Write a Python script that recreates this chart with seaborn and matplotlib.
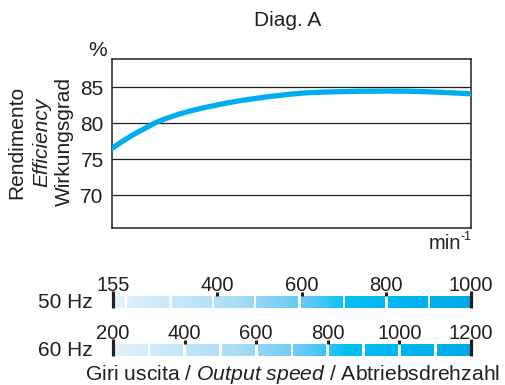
import matplotlib
matplotlib.use("Agg")
import matplotlib.pyplot as plt
import matplotlib.transforms as mtransforms
from matplotlib.colors import LinearSegmentedColormap
import numpy as np
import pandas as pd
import seaborn as sns

# efficiency curve, x in output speed at 50 Hz
speed = [155, 180, 205, 230, 255, 280, 310, 340, 372, 400, 430, 460, 490, 520, 550,
         580, 610, 650, 700, 750, 800, 850, 900, 950, 1000]
efficiency = [76.5, 77.5, 78.4, 79.2, 80.0, 80.6, 81.2, 81.7, 82.15, 82.5, 82.85, 83.15, 83.4,
              83.65, 83.85, 84.05, 84.2, 84.3, 84.38, 84.43, 84.45, 84.43, 84.35, 84.22, 84.07]
y_ticks = [70, 75, 80, 85]

# speed scales
ticks_50 = [400, 600, 800]
labels_50 = [155, 400, 600, 800, 1000]
blocks_50 = [155, 185, 290, 390, 490, 595, 700, 800, 900, 1000]
ticks_60 = [400, 600, 800, 1000]
labels_60 = [200, 400, 600, 800, 1000, 1200]
blocks_60 = [200, 300, 400, 500, 600, 700, 800, 900, 1000, 1100, 1200]

W, H = 506, 385
FONT = "Liberation Sans"

sns.set_style("white")
plt.rcParams["font.family"] = [FONT, "DejaVu Sans"]
plt.rcParams["mathtext.fontset"] = "custom"
plt.rcParams["mathtext.rm"] = FONT
plt.rcParams["mathtext.it"] = FONT + ":italic"

fig = plt.figure(figsize=(W / 100, H / 100), dpi=100)


def box(x0, y0, x1, y1):
    return [x0 / W, 1 - y1 / H, (x1 - x0) / W, (y1 - y0) / H]


# main chart
ax = fig.add_axes(box(112, 59, 471, 228))
df = pd.DataFrame({"speed": speed, "eff": efficiency})
sns.lineplot(data=df, x="speed", y="eff", ax=ax, color="#00aeef", lw=3.8, zorder=3)
ax.set_xlim(155, 1000)
ax.set_ylim(65.45, 88.9)
ax.set_yticks(y_ticks)
ax.set_xticks([])
ax.set_xlabel("")
ax.set_ylabel("")
for v in y_ticks:
    ax.axhline(v, color="#231f20", lw=0.9, zorder=1)
for s in ax.spines.values():
    s.set_color("#231f20")
    s.set_linewidth(1.1)
ax.tick_params(axis="y", length=0, pad=6, labelsize=15, colors="#231f20")

fig.text(288 / W, 1 - 20 / H, "Diag. A", fontsize=15, ha="center", va="center", color="#231f20")
fig.text(98 / W, 1 - 50 / H, "%", fontsize=15, ha="center", va="center", color="#231f20")
fig.text(429 / W, 1 - 249 / H, "min", fontsize=14.5, ha="left", va="baseline", color="#231f20")
fig.text(461 / W, 1 - 240 / H, "-1", fontsize=9, ha="left", va="baseline", color="#231f20")
for x, txt, style in [(17, "Rendimento", "normal"), (42, "Efficiency", "italic"), (64, "Wirkungsgrad", "normal")]:
    fig.text(x / W, 1 - 142 / H, txt, fontsize=15, style=style, rotation=90,
             ha="center", va="center", color="#231f20")

cmap = LinearSegmentedColormap.from_list(
    "speed", [(0, "#e2f3fc"), (0.35, "#a8dcf6"), (0.55, "#5cc8f2"), (0.66, "#00bff3"), (1, "#00a9e8")])


def speed_bar(rect, edges, ticks, labels, name, name_y):
    bx = fig.add_axes(rect)
    lo, hi = edges[0], edges[-1]
    gap = 3 * (hi - lo) / 358 / 2
    for a, b in zip(edges[:-1], edges[1:]):
        a2 = a + (gap if a > lo else 0)
        b2 = b - (gap if b < hi else 0)
        grad = np.linspace((a2 - lo) / (hi - lo), (b2 - lo) / (hi - lo), 60)[None, :]
        bx.imshow(grad, cmap=cmap, vmin=0, vmax=1, aspect="auto",
                  extent=(a2, b2, 0, 1), interpolation="bilinear")
    bx.set_xlim(lo, hi)
    bx.set_ylim(0, 1)
    bx.axis("off")
    trans = mtransforms.blended_transform_factory(bx.transData, bx.transAxes)
    bx.vlines([lo, hi], 0, 1.42, transform=trans, color="#231f20", lw=2.3, clip_on=False)
    bx.vlines(ticks, 1.0, 1.33, transform=trans, color="#231f20", lw=2.2, clip_on=False)
    for v in labels:
        bx.text(v, 1.45, str(v), transform=trans, ha="center", va="baseline",
                fontsize=14.5, color="#231f20")
    fig.text(93 / W, 1 - name_y / H, name, fontsize=15, ha="right", va="center", color="#231f20")


speed_bar(box(113, 296, 471, 308), blocks_50, ticks_50, labels_50, "50 Hz", 302)
speed_bar(box(113, 344, 471, 356), blocks_60, ticks_60, labels_60, "60 Hz", 350)

fig.text(293 / W, 1 - 380 / H, "Giri uscita / $\\it{Output\\ speed}$ / Abtriebsdrehzahl",
         fontsize=15.2, ha="center", va="baseline", color="#231f20")

fig.savefig("out.png", dpi=100)
